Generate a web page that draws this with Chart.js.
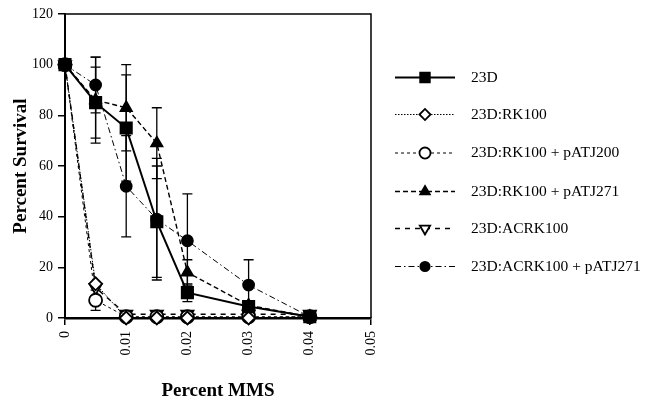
<!DOCTYPE html>
<html><head><meta charset="utf-8">
<script src="https://cdn.jsdelivr.net/npm/chart.js@4.4.0/dist/chart.umd.min.js"></script>
<style>
html,body{margin:0;padding:0;background:#fff;}
#wrap{position:relative;width:646px;height:402px;overflow:hidden;}
canvas{position:absolute;left:0;top:0;}
.lg{position:absolute;left:471px;font-family:"Liberation Serif",serif;font-size:15.5px;color:#000;line-height:18px;white-space:nowrap;}
</style></head><body>
<div id="wrap"><canvas id="c" width="646" height="402"></canvas></div>
<script>
// ---- data ----
const seriesNames = ['23D', '23D:RK100', '23D:RK100 + pATJ200', '23D:RK100 + pATJ271', '23D:ACRK100', '23D:ACRK100 + pATJ271'];
const mmsDoses = [0, 0.005, 0.01, 0.015, 0.02, 0.03, 0.04];
const survival23D = [100, 85, 75, 38, 10, 4.5, 0.5];
const error23D = [0, 14, 21, 22, 3.5, 0, 0];
const survivalRK100 = [100, 13.5, 0, 0, 0, 0, 0.5];
const errorRK100 = [0, 0, 0, 0, 0, 0, 0];
const survivalRK100pATJ200 = [100, 7, 0.5, 0.5, 0.5, 0.5, 0.5];
const errorRK100pATJ200 = [0, 4, 0, 0, 0, 0, 0];
const survivalRK100pATJ271 = [100, 86, 83, 69, 18, 5, 0.5];
const errorRK100pATJ271 = [0, 17, 17, 14, 5, 0, 0];
const survivalACRK100 = [100, 12, 1.5, 1.5, 1.5, 1.5, 1.5];
const errorACRK100 = [0, 0, 0, 0, 0, 0, 0];
const survivalACRK100pATJ271 = [100, 92, 52, 39, 30.5, 13, 0.5];
const errorACRK100pATJ271 = [0, 11, 20, 24, 18.5, 10, 0];
const xTickLabels = ['0', '0.01', '0.02', '0.03', '0.04', '0.05'];
const yTickLabels = ['0', '20', '40', '60', '80', '100', '120'];
const xAxisTitle = 'Percent MMS';
const yAxisTitle = 'Percent Survival';

// ---- styles ----
const styles = [
  {borderWidth: 2, borderDash: [], pointStyle: 'rect', pointRadius: 8, fill: '#000', rot: 0},
  {borderWidth: 1, borderDash: [1.5, 1.5], pointStyle: 'rectRot', pointRadius: 6.5, fill: '#fff', rot: 0},
  {borderWidth: 1, borderDash: [3, 3], pointStyle: 'circle', pointRadius: 6.5, fill: '#fff', rot: 0},
  {borderWidth: 1.4, borderDash: [5, 3], pointStyle: 'triangle', pointRadius: 6.5, fill: '#000', rot: 0},
  {borderWidth: 1.4, borderDash: [5, 5], pointStyle: 'triangle', pointRadius: 7, fill: '#fff', rot: 180},
  {borderWidth: 1, borderDash: [6, 3, 1.5, 3], pointStyle: 'circle', pointRadius: 5.5, fill: '#000', rot: 0}
];
const allValues = [survival23D, survivalRK100, survivalRK100pATJ200, survivalRK100pATJ271, survivalACRK100, survivalACRK100pATJ271];
const allErrors = [error23D, errorRK100, errorRK100pATJ200, errorRK100pATJ271, errorACRK100, errorACRK100pATJ271];

const datasets = seriesNames.map((name, k) => ({
  label: name,
  data: mmsDoses.map((x, i) => ({x: x, y: allValues[k][i]})),
  errors: allErrors[k],
  borderColor: '#000',
  borderWidth: styles[k].borderWidth,
  borderDash: styles[k].borderDash,
  pointStyle: styles[k].pointStyle,
  pointRadius: styles[k].pointRadius,
  pointRotation: styles[k].rot,
  pointBackgroundColor: styles[k].fill,
  pointBorderColor: '#000',
  pointBorderWidth: 1.8,
  fill: false,
  tension: 0,
  clip: false
}));

const errorBarPlugin = {
  id: 'errorBars',
  beforeDatasetsDraw(chart) {
    const ctx = chart.ctx, xs = chart.scales.x, ys = chart.scales.y;
    ctx.save();
    ctx.strokeStyle = '#000';
    ctx.lineWidth = 1.3;
    ctx.setLineDash([]);
    chart.data.datasets.forEach(ds => {
      ds.data.forEach((p, i) => {
        const e = ds.errors[i];
        if (!e) return;
        const px = xs.getPixelForValue(p.x);
        const yt = ys.getPixelForValue(p.y + e);
        const yb = ys.getPixelForValue(Math.max(0, p.y - e));
        ctx.beginPath();
        ctx.moveTo(px, yt); ctx.lineTo(px, yb);
        ctx.moveTo(px - 5, yt); ctx.lineTo(px + 5, yt);
        ctx.moveTo(px - 5, yb); ctx.lineTo(px + 5, yb);
        ctx.stroke();
      });
    });
    ctx.restore();
  },
  afterDraw(chart) {
    const ctx = chart.ctx, a = chart.chartArea;
    ctx.save();
    ctx.strokeStyle = '#000';
    ctx.lineWidth = 1.5;
    ctx.beginPath();
    ctx.moveTo(a.left, a.top); ctx.lineTo(a.right, a.top); ctx.lineTo(a.right, a.bottom);
    ctx.stroke();
    // legend line samples
    const ys = [77.5, 114.5, 153, 191.5, 228.5, 266.5];
    chart.data.datasets.forEach((ds, k) => {
      const y = ys[k];
      ctx.strokeStyle = '#000';
      ctx.lineWidth = ds.borderWidth;
      ctx.setLineDash(ds.borderDash);
      ctx.beginPath(); ctx.moveTo(395, y); ctx.lineTo(455, y); ctx.stroke();
      ctx.setLineDash([]);
      ctx.fillStyle = ds.pointBackgroundColor;
      ctx.lineWidth = 1.8;
      Chart.helpers.drawPoint(ctx, {pointStyle: ds.pointStyle, rotation: ds.pointRotation, radius: ds.pointRadius * 0.85, borderWidth: 1.8}, 425, y);
    });
    ctx.restore();
  }
};

new Chart(document.getElementById('c'), {
  type: 'line',
  data: {datasets: datasets},
  options: {
    responsive: false,
    animation: false,
    layout: {padding: {left: 0, right: 275, top: 14, bottom: 0}},
    plugins: {legend: {display: false}, tooltip: {enabled: false}},
    scales: {
      x: {
        type: 'linear', min: 0, max: 0.05,
        afterFit(s) { s.height = 84; },
        grid: {drawOnChartArea: false, drawTicks: true, tickLength: 7, color: '#000', lineWidth: 1.5},
        border: {display: true, color: '#000', width: 2.5},
        ticks: {stepSize: 0.01, autoSkip: false, minRotation: 90, maxRotation: 90, padding: 6, color: '#000',
          font: {family: 'Liberation Serif', size: 14},
          callback: (v, i) => xTickLabels[i]},
        title: {display: true, text: xAxisTitle, color: '#000', padding: {top: 0, bottom: 0},
          font: {family: 'Liberation Serif', size: 19, weight: 'bold'}}
      },
      y: {
        min: 0, max: 120,
        afterFit(s) { s.width = 65; },
        grid: {drawOnChartArea: false, drawTicks: true, tickLength: 7, color: '#000', lineWidth: 1.5},
        border: {display: true, color: '#000', width: 2},
        ticks: {stepSize: 20, padding: 5, color: '#000',
          font: {family: 'Liberation Serif', size: 14},
          callback: (v, i) => yTickLabels[i]},
        title: {display: true, text: yAxisTitle, color: '#000', padding: {top: 10, bottom: 0},
          font: {family: 'Liberation Serif', size: 19, weight: 'bold'}}
      }
    }
  },
  plugins: [errorBarPlugin]
});

// legend labels (HTML text)
const legendYs = [77.5, 114.5, 153, 191.5, 228.5, 266.5];
seriesNames.forEach((n, k) => {
  const d = document.createElement('div');
  d.className = 'lg';
  d.style.top = (legendYs[k] - 10) + 'px';
  d.textContent = n;
  document.getElementById('wrap').appendChild(d);
});
</script>
</body></html>
